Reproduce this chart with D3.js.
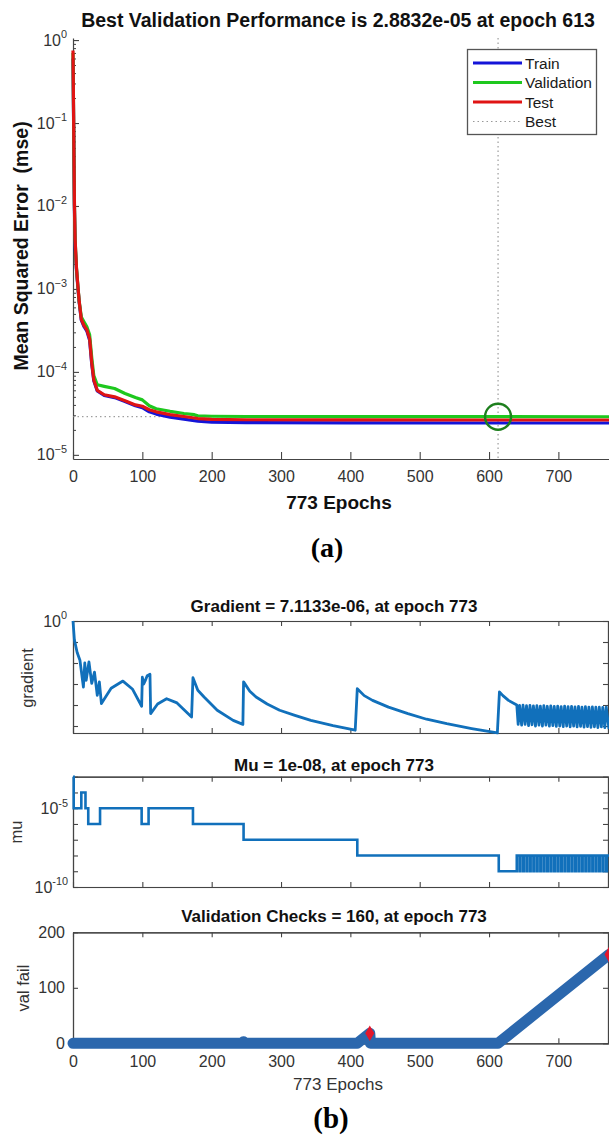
<!DOCTYPE html>
<html>
<head>
<meta charset="utf-8">
<script src="https://cdn.jsdelivr.net/npm/d3@7"></script>
<style>
body { margin: 0; background: #fff; }
svg { display: block; font-family: "Liberation Sans", Arial, sans-serif; }
</style>
</head>
<body>
<svg width="609" height="1137"></svg>
<script>
// ---------------- data ----------------
var xTicks = [0, 100, 200, 300, 400, 500, 600, 700];

// (a) performance
var perfEpochs = [0, 1, 2, 3, 5, 7, 9, 12, 16, 20, 24, 27, 30, 35, 45, 60, 75, 90, 100, 110, 120, 140, 160, 175, 180, 200, 250, 400, 613, 773];
var trainPerf = [0.6, 0.08, 0.01, 0.0035, 1.7e-3, 1.05e-3, 6.8e-4, 4.2e-4, 3.5e-4, 3.1e-4, 2.4e-4, 1.25e-4, 7.8e-5, 5.9e-5, 5.2e-5, 4.9e-5, 4.4e-5, 3.9e-5, 3.7e-5, 3.3e-5, 3.1e-5, 2.85e-5, 2.7e-5, 2.58e-5, 2.55e-5, 2.48e-5, 2.45e-5, 2.43e-5, 2.42e-5, 2.42e-5];
var valPerf = [0.7, 0.09, 0.011, 0.004, 1.8e-3, 1.1e-3, 7e-4, 4.6e-4, 4.0e-4, 3.5e-4, 2.8e-4, 1.5e-4, 9e-5, 7.0e-5, 6.7e-5, 6.3e-5, 5.5e-5, 4.9e-5, 4.6e-5, 3.9e-5, 3.6e-5, 3.35e-5, 3.15e-5, 3.05e-5, 2.95e-5, 2.92e-5, 2.9e-5, 2.89e-5, 2.8832e-5, 2.88e-5];
var testPerf = [0.75, 0.1, 0.012, 0.004, 1.8e-3, 1.1e-3, 7e-4, 4.3e-4, 3.6e-4, 3.2e-4, 2.5e-4, 1.3e-4, 8e-5, 6.0e-5, 5.3e-5, 5.0e-5, 4.5e-5, 4.0e-5, 3.85e-5, 3.5e-5, 3.3e-5, 3.05e-5, 2.9e-5, 2.78e-5, 2.74e-5, 2.68e-5, 2.65e-5, 2.64e-5, 2.63e-5, 2.63e-5];
var bestEpoch = 613, bestPerf = 2.8832e-5;
var perfNames = ["Train", "Validation", "Test"];
var perfColors = ["#1414d8", "#1ec81e", "#e01414"];

// (b) gradient
var gradEpochs = [0, 2, 6, 10, 15, 17, 19, 23, 27, 31, 35, 38, 41, 55, 72, 86, 99, 100, 102, 104, 107, 111, 112, 122, 135, 150, 171, 173, 180, 189, 208, 231, 245, 246, 255, 264, 280, 298, 320, 343, 375, 407, 410, 420, 432, 455, 483, 510, 539, 575, 612, 615, 620, 628, 640,
  642, 644, 647, 649, 652, 654, 657, 659, 662, 664, 667, 669, 672, 674, 677, 679, 682, 684, 687, 689, 692, 694, 697, 699, 702, 704, 707, 709, 712, 714, 717, 719, 722, 724, 727, 729, 732, 734, 737, 739, 742, 744, 747, 749, 752, 754, 757, 759, 762, 764, 767, 769, 773];
var gradValues = [1, 0.126, 0.0316, 0.0135, 7.2e-4, 0.01, 1.5e-3, 0.0112, 1.07e-3, 3.7e-3, 2.9e-4, 1.26e-3, 1.17e-4, 6.3e-4, 1.38e-3, 5.6e-4, 8.7e-5, 2.1e-3, 1e-3, 1.4e-3, 2.5e-3, 2.9e-3, 3.9e-5, 1.12e-4, 2e-4, 1.26e-4, 2.7e-5, 2e-3, 5e-4, 2.4e-4, 5.6e-5, 1.86e-5, 1.2e-5, 1.26e-3, 4.5e-4, 2.4e-4, 1.12e-4, 5.6e-5, 3.2e-5, 1.86e-5, 1.05e-5, 6.3e-6, 6e-4, 2.8e-4, 1.66e-4, 7.9e-5, 3.9e-5, 2.1e-5, 1.29e-5, 7.6e-6, 4.7e-6, 4.2e-4, 2.8e-4, 1.66e-4, 1e-4,
  1.2e-5, 9.5e-5, 1.1e-5, 9.8e-5, 1.2e-5, 9.2e-5, 1.05e-5, 9.6e-5, 1.15e-5, 9.0e-5, 1.0e-5, 9.4e-5, 1.1e-5, 8.8e-5, 1.0e-5, 9.3e-5, 1.1e-5, 8.7e-5, 9.8e-6, 9.1e-5, 1.05e-5, 8.6e-5, 9.6e-6, 8.9e-5, 1.0e-5, 8.4e-5, 9.4e-6, 8.8e-5, 1.0e-5, 8.3e-5, 9.2e-6, 8.6e-5, 9.8e-6, 8.1e-5, 9.0e-6, 8.5e-5, 9.6e-6, 8.0e-5, 8.9e-6, 8.3e-5, 9.4e-6, 7.9e-5, 8.7e-6, 8.2e-5, 9.2e-6, 7.8e-5, 8.5e-6, 8.0e-5, 9.0e-6, 7.7e-5, 8.3e-6, 7.9e-5, 7.1133e-6];

// (b) mu
var muEpochs = [0, 1, 12, 18, 22, 39, 99, 109, 173, 246, 410, 614,
  640, 644, 645, 649, 650, 654, 655, 659, 660, 664, 665, 669, 670, 674, 675, 679, 680, 684, 685, 689, 690, 694, 695, 699, 700, 704, 705, 709, 710, 714, 715, 719, 720, 724, 725, 729, 730, 734, 735, 739, 740, 744, 745, 749, 750, 754, 755, 759, 760, 764, 765, 769, 770, 773];
var muValues = [1e-3, 1e-5, 1e-4, 1e-5, 1e-6, 1e-5, 1e-6, 1e-5, 1e-6, 1e-7, 1e-8, 1e-9,
  1e-8, 1e-9, 1e-8, 1e-9, 1e-8, 1e-9, 1e-8, 1e-9, 1e-8, 1e-9, 1e-8, 1e-9, 1e-8, 1e-9, 1e-8, 1e-9, 1e-8, 1e-9, 1e-8, 1e-9, 1e-8, 1e-9, 1e-8, 1e-9, 1e-8, 1e-9, 1e-8, 1e-9, 1e-8, 1e-9, 1e-8, 1e-9, 1e-8, 1e-9, 1e-8, 1e-9, 1e-8, 1e-9, 1e-8, 1e-9, 1e-8, 1e-9, 1e-8, 1e-9, 1e-8, 1e-9, 1e-8, 1e-9, 1e-8, 1e-9, 1e-8, 1e-9, 1e-8, 1e-8];

// (b) validation checks
var failEpochs = [0, 244, 246, 247, 410, 428, 429, 613, 773];
var failValues = [0, 0, 3, 0, 0, 18, 0, 0, 160];
var failMarkEpochs = [428, 773];
var failMarkValues = [18, 160];

// ---------------- drawing ----------------
var svg = d3.select("svg");
svg.append("rect").attr("width", 609).attr("height", 1137).attr("fill", "#fff");

var axisColor = "#444", labelColor = "#333";

function sup_label(g, x, y, base, exp, size) {
  var t = g.append("text").attr("x", x).attr("y", y)
      .attr("text-anchor", "end").attr("fill", labelColor)
      .style("font-size", size + "px").text(base);
  t.append("tspan").attr("dy", -size * 0.45).style("font-size", (size * 0.68) + "px").text(exp);
}

function style_axis(g) {
  g.selectAll("path.domain").attr("stroke", axisColor).attr("stroke-width", 1.2);
  g.selectAll(".tick line").attr("stroke", axisColor).attr("stroke-width", 1.1);
  g.selectAll(".tick text").attr("fill", labelColor).style("font-size", "16px")
      .style("font-family", "'Liberation Sans', Arial, sans-serif");
}

// ===== (a) =====
var pa = {left: 73, right: 609, top: 38, bottom: 459};
var xA = d3.scaleLinear().domain([0, 773]).range([pa.left, pa.right]);
var yA = d3.scaleLog().domain([Math.pow(10, -5.05), Math.pow(10, 0.025)]).range([pa.bottom, pa.top]);

var gA = svg.append("g");
var decA = [1, 1e-1, 1e-2, 1e-3, 1e-4, 1e-5];
var minorA = [];
decA.slice(1).forEach(function(d) {
  for (var m = 2; m <= 9; m++) minorA.push(d * m);
});

var axA_x = gA.append("g").attr("transform", "translate(0," + pa.bottom + ")")
  .call(d3.axisBottom(xA).tickValues(xTicks).tickSize(-7).tickSizeOuter(0).tickPadding(12));
style_axis(axA_x);

var axA_y = gA.append("g").attr("transform", "translate(" + pa.left + ",0)")
  .call(d3.axisLeft(yA).tickValues(decA).tickSize(-6).tickSizeOuter(0).tickFormat(""));
style_axis(axA_y);
axA_y.selectAll("line.minor").data(minorA).enter().append("line")
  .attr("x1", 0).attr("x2", 3).attr("y1", function(d) { return yA(d) + 0.5; }).attr("y2", function(d) { return yA(d) + 0.5; })
  .attr("stroke", axisColor).attr("stroke-width", 1);
decA.forEach(function(d) {
  sup_label(gA, pa.left - 6, yA(d) + 5.5, "10", d3.format("d")(Math.round(Math.log10(d))), 16);
});

// best markers (dotted)
gA.append("line").attr("x1", xA(0)).attr("x2", xA(bestEpoch)).attr("y1", yA(bestPerf)).attr("y2", yA(bestPerf))
  .attr("stroke", "#888").attr("stroke-width", 1).attr("stroke-dasharray", "1.5,3");
gA.append("line").attr("x1", xA(bestEpoch)).attr("x2", xA(bestEpoch)).attr("y1", pa.top).attr("y2", pa.bottom)
  .attr("stroke", "#888").attr("stroke-width", 1).attr("stroke-dasharray", "1.5,3");

var perfSeries = [trainPerf, valPerf, testPerf];
var lineA = d3.line().x(function(d, i) { return xA(perfEpochs[i]); }).y(function(d) { return yA(d); });
perfSeries.forEach(function(s, k) {
  gA.append("path").datum(s).attr("d", lineA).attr("fill", "none")
    .attr("stroke", perfColors[k]).attr("stroke-width", 3.2).attr("stroke-linejoin", "round");
});

gA.append("circle").attr("cx", xA(bestEpoch)).attr("cy", yA(bestPerf)).attr("r", 13)
  .attr("fill", "none").attr("stroke", "#1d7f1d").attr("stroke-width", 2.4);

// legend
var lg = gA.append("g");
lg.append("rect").attr("x", 467.5).attr("y", 49.5).attr("width", 129).attr("height", 85)
  .attr("fill", "#fff").attr("stroke", "#555").attr("stroke-width", 1.3);
var legendNames = perfNames.concat(["Best"]);
legendNames.forEach(function(n, i) {
  var ly = 63 + i * 19.5;
  var ln = lg.append("line").attr("x1", 473).attr("x2", 522).attr("y1", ly).attr("y2", ly);
  if (i < 3) ln.attr("stroke", perfColors[i]).attr("stroke-width", 3.2);
  else ln.attr("stroke", "#999").attr("stroke-width", 1).attr("stroke-dasharray", "1.5,3");
  lg.append("text").attr("x", 525).attr("y", ly + 5.5).attr("fill", "#1a1a1a")
    .style("font-size", "15.5px").text(n);
});

gA.append("text").attr("x", 338).attr("y", 27).attr("text-anchor", "middle")
  .style("font-size", "19.5px").style("font-weight", "bold").attr("fill", "#111")
  .text("Best Validation Performance is 2.8832e-05 at epoch 613");
gA.append("text").attr("transform", "translate(21,246) rotate(-90)").attr("text-anchor", "middle")
  .attr("dy", "0.35em").style("font-size", "19.5px").style("font-weight", "bold").attr("fill", "#111")
  .style("white-space", "pre").text("Mean Squared Error  (mse)");
gA.append("text").attr("x", 339).attr("y", 509).attr("text-anchor", "middle")
  .style("font-size", "19px").style("font-weight", "bold").attr("fill", "#111").text("773 Epochs");
gA.append("text").attr("x", 327).attr("y", 557).attr("text-anchor", "middle")
  .style("font-family", "'Liberation Serif', 'Times New Roman', serif")
  .style("font-size", "28px").style("font-weight", "bold").attr("fill", "#000").text("(a)");

// ===== (b) =====
var pb = {left: 73, right: 609};
var xB = d3.scaleLinear().domain([0, 773]).range([pb.left, pb.right]);
var lineColor = "#1170bb";

function panel(top, bottom, yScale, yTicks, showX) {
  var g = svg.append("g");
  g.append("rect").attr("x", pb.left + 0.5).attr("y", top + 0.5)
    .attr("width", pb.right - pb.left - 1).attr("height", bottom - top)
    .attr("fill", "none").attr("stroke", axisColor).attr("stroke-width", 1.1);
  var bx = g.append("g").attr("transform", "translate(0," + bottom + ")")
    .call(d3.axisBottom(xB).tickValues(xTicks).tickSize(-5).tickSizeOuter(0).tickPadding(12)
      .tickFormat(showX ? d3.format("d") : ""));
  style_axis(bx);
  var tx = g.append("g").attr("transform", "translate(0," + top + ")")
    .call(d3.axisTop(xB).tickValues(xTicks).tickSize(-5).tickSizeOuter(0).tickFormat(""));
  style_axis(tx);
  var ly = g.append("g").attr("transform", "translate(" + pb.left + ",0)")
    .call(d3.axisLeft(yScale).tickValues(yTicks).tickSize(-5).tickSizeOuter(0).tickFormat(""));
  style_axis(ly);
  var ry = g.append("g").attr("transform", "translate(" + (pb.right - 1) + ",0)")
    .call(d3.axisRight(yScale).tickValues(yTicks).tickSize(-5).tickSizeOuter(0).tickFormat(""));
  style_axis(ry);
  return g;
}

function panel_title(g, y, txt) {
  g.append("text").attr("x", 334).attr("y", y).attr("text-anchor", "middle")
    .style("font-size", "17px").style("font-weight", "bold").attr("fill", "#111").text(txt);
}
function panel_ylabel(g, x, y, txt) {
  g.append("text").attr("transform", "translate(" + x + "," + y + ") rotate(-90)").attr("text-anchor", "middle")
    .attr("dy", "0.35em").style("font-size", "16.5px").attr("fill", labelColor).text(txt);
}

// gradient
var gTop = 621, gBot = 733;
var yG = d3.scaleLog().domain([Math.pow(10, -5.333), 1]).range([gBot, gTop]);
var gG = panel(gTop, gBot, yG, [1, 1e-1, 1e-2, 1e-3, 1e-4, 1e-5], false);
gG.append("path").datum(gradValues)
  .attr("d", d3.line().x(function(d, i) { return xB(gradEpochs[i]); }).y(function(d) { return yG(d); }))
  .attr("fill", "none").attr("stroke", lineColor).attr("stroke-width", 2.8).attr("stroke-linejoin", "round");
sup_label(gG, 67, yG(1) + 5.5, "10", "0", 16);
panel_title(gG, 612, "Gradient = 7.1133e-06, at epoch 773");
panel_ylabel(gG, 27, 678, "gradient");

// mu
var mTop = 776.7, mBot = 887;
var yM = d3.scaleLog().domain([1e-10, 1e-3]).range([mBot, mTop]);
var gM = panel(mTop, mBot, yM, [1e-3, 1e-4, 1e-5, 1e-6, 1e-7, 1e-8, 1e-9, 1e-10], false);
gM.append("path").datum(muValues)
  .attr("d", d3.line().curve(d3.curveStepAfter).x(function(d, i) { return xB(muEpochs[i]); }).y(function(d) { return yM(d); }))
  .attr("fill", "none").attr("stroke", lineColor).attr("stroke-width", 2.6);
sup_label(gM, 68, yM(1e-5) + 5.5, "10", "-5", 16);
sup_label(gM, 68, yM(1e-10) + 5.5, "10", "-10", 16);
panel_title(gM, 770.5, "Mu = 1e-08, at epoch 773");
panel_ylabel(gM, 16, 832, "mu");

// validation checks
var vTop = 932.3, vBot = 1043.3;
var yV = d3.scaleLinear().domain([0, 200]).range([vBot, vTop]);
var gV = panel(vTop, vBot, yV, [0, 100, 200], true);
[0, 100, 200].forEach(function(v) {
  gV.append("text").attr("x", 65).attr("y", yV(v) + 5.5).attr("text-anchor", "end")
    .attr("fill", labelColor).style("font-size", "16px").text(v);
});
gV.append("path").datum(failValues)
  .attr("d", d3.line().x(function(d, i) { return xB(failEpochs[i]); }).y(function(d) { return yV(d); }))
  .attr("fill", "none").attr("stroke", "#2b67ad").attr("stroke-width", 11)
  .attr("stroke-linejoin", "round").attr("stroke-linecap", "round");
gV.selectAll("path.mark").data(failMarkValues).enter().append("path")
  .attr("d", d3.symbol(d3.symbolDiamond).size(70))
  .attr("transform", function(d, i) { return "translate(" + xB(failMarkEpochs[i]) + "," + yV(d) + ")"; })
  .attr("fill", "#e3162b");
panel_title(gV, 922, "Validation Checks = 160, at epoch 773");
panel_ylabel(gV, 23, 988, "val fail");
gV.append("text").attr("x", 338).attr("y", 1090).attr("text-anchor", "middle")
  .style("font-size", "17px").attr("fill", labelColor).text("773 Epochs");
gV.append("text").attr("x", 331).attr("y", 1128).attr("text-anchor", "middle")
  .style("font-family", "'Liberation Serif', 'Times New Roman', serif")
  .style("font-size", "29px").style("font-weight", "bold").attr("fill", "#000").text("(b)");
</script>
</body>
</html>
